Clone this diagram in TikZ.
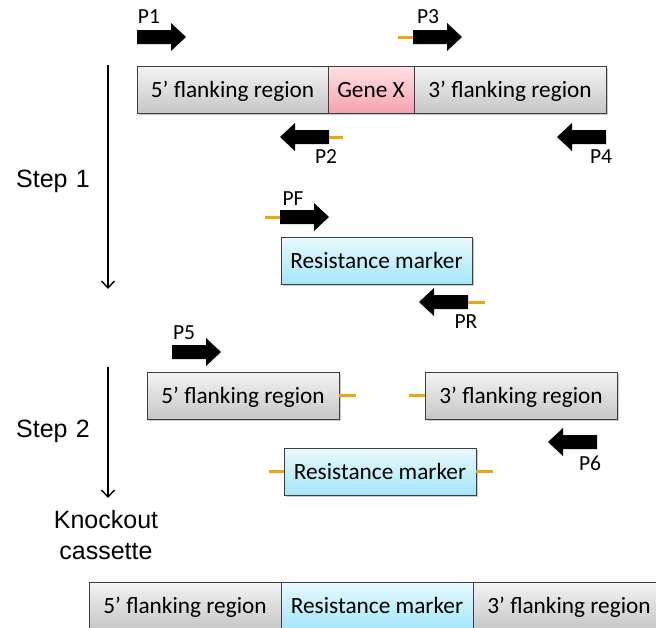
\documentclass[tikz,border=0pt]{standalone}
\usepackage{fontspec}
\setmainfont{Carlito}
\newfontfamily\labelfont{Liberation Sans}
\usetikzlibrary{arrows.meta,shadows}
\definecolor{edge}{HTML}{3F3F3F}
\definecolor{greytop}{HTML}{F4F4F4}
\definecolor{greybot}{HTML}{C6C6C6}
\definecolor{pinktop}{HTML}{FFE1E6}
\definecolor{pinkbot}{HTML}{F5A2AF}
\definecolor{bluetop}{HTML}{E8FAFE}
\definecolor{bluebot}{HTML}{A4E6FA}
\definecolor{tailcol}{HTML}{EFA60C}
\tikzset{
  segment/.style={draw=edge, line width=0.8pt, minimum height=47pt, inner sep=0pt,
    font=\fontsize{23.3}{27}\selectfont, text height=19.5pt, text depth=4pt,
    drop shadow={shadow xshift=1.5pt, shadow yshift=-1.8pt, opacity=0.35, fill=black!60}},
  flank/.style={segment, top color=greytop, bottom color=greybot},
  gene/.style={segment, top color=pinktop, bottom color=pinkbot},
  marker/.style={segment, top color=bluetop, bottom color=bluebot},
  primerlabel/.style={font=\fontsize{21.5}{24}\selectfont, inner sep=0pt},
  steplabel/.style={font=\labelfont\fontsize{25}{30}\selectfont, inner sep=0pt, align=center},
  tail/.style={draw=tailcol, line width=3pt},
  steparrow/.style={line width=1.4pt, -{Straight Barb[length=7pt,width=13pt,line width=1.4pt]}},
  fwdprimer/.pic={\fill (0,-7) -- (34,-7) -- (34,-14) -- (49,0) -- (34,14) -- (34,7) -- (0,7) -- cycle;},
  revprimer/.pic={\fill (0,-7) -- (-34,-7) -- (-34,-14) -- (-49,0) -- (-34,14) -- (-34,7) -- (0,7) -- cycle;}
}
\begin{document}
\begin{tikzpicture}[x=1pt, y=-1pt]
\useasboundingbox (0,0) rectangle (656,627);
\clip (0,0) rectangle (656,627);
\fill[white] (0,0) rectangle (656,627);

% ---- genomic locus with primers P1-P4
\node[flank, minimum width=191pt] (loc5) at (232.5,89.5) {5’ flanking region};
\node[gene,  minimum width=86pt]  (genex) at (371,89.5) {Gene X};
\node[flank, minimum width=192pt] (loc3) at (510,89.5) {3’ flanking region};

\pic (p1) at (137,37) {fwdprimer};
\node[primerlabel] (p1lab) at (149,17) {P1};
\coordinate (p3t) at (398,37);
\pic (p3) at (413,37) {fwdprimer};
\draw[tail] (p3t) -- (413,37);
\node[primerlabel] (p3lab) at (428,17) {P3};
\pic (p2) at (329,137) {revprimer};
\coordinate (p2t) at (343,137);
\draw[tail] (329,137) -- (p2t);
\node[primerlabel] (p2lab) at (326,157) {P2};
\pic (p4) at (606,137) {revprimer};
\node[primerlabel] (p4lab) at (601,157) {P4};

% ---- resistance marker with PF / PR
\node[marker, minimum width=191pt] (rm1) at (376.5,260.5) {Resistance marker};
\coordinate (pft) at (265,217);
\pic (pf) at (280,217) {fwdprimer};
\draw[tail] (pft) -- (280,217);
\node[primerlabel] (pflab) at (293,199) {PF};
\pic (pr) at (468,302) {revprimer};
\coordinate (prt) at (485,302);
\draw[tail] (468,302) -- (prt);
\node[primerlabel] (prlab) at (466,322) {PR};

% ---- step 2: fusion PCR pieces
\node[flank, minimum width=192pt] (f5) at (243,395.5) {5’ flanking region};
\node[flank, minimum width=192pt] (f3) at (521,395.5) {3’ flanking region};
\node[marker, minimum width=192pt] (rm2) at (380,471.5) {Resistance marker};
\draw[tail] (f5.east) -- ++(17,0);
\draw[tail] (f3.west) -- ++(-16,0);
\draw[tail] (rm2.west) -- ++(-15,0);
\draw[tail] (rm2.east) -- ++(17,0);
\pic (p5) at (172,352) {fwdprimer};
\node[primerlabel] (p5lab) at (184,333) {P5};
\pic (p6) at (597,442) {revprimer};
\node[primerlabel] (p6lab) at (590,463) {P6};

% ---- knockout cassette
\node[flank, minimum width=192pt] (k5) at (185,605.5) {5’ flanking region};
\node[marker, minimum width=192pt] (krm) at (377,605.5) {Resistance marker};
\node[flank, minimum width=192pt] (k3) at (569,605.5) {3’ flanking region};

% ---- step arrows and labels
\coordinate (s1a) at (108,65);
\coordinate (s1b) at (108,289);
\coordinate (s2a) at (108,367);
\coordinate (s2b) at (108,498);
\draw[steparrow] (s1a) -- (s1b);
\draw[steparrow] (s2a) -- (s2b);
\node[steplabel] (step1) at (53,181) {Step\,\,1};
\node[steplabel] (step2) at (53,431) {Step\,\,2};
\node[steplabel, font=\labelfont\fontsize{25}{31}\selectfont] (ko) at (106,535) {Knockout\\cassette};
\end{tikzpicture}
\end{document}
